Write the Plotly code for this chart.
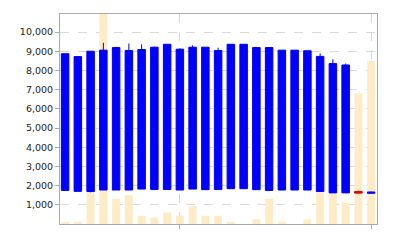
import plotly.graph_objects as go

dates = ["2024-01-02", "2024-01-03", "2024-01-04", "2024-01-05", "2024-01-08",
         "2024-01-09", "2024-01-10", "2024-01-11", "2024-01-12", "2024-01-15",
         "2024-01-16", "2024-01-17", "2024-01-18", "2024-01-19", "2024-01-22",
         "2024-01-23", "2024-01-24", "2024-01-25", "2024-01-26", "2024-01-29",
         "2024-01-30", "2024-01-31", "2024-02-01", "2024-02-02", "2024-02-05"]

open_ = [1750, 1700, 1690, 1770, 1770, 1770, 1820, 1800, 1800, 1770,
         1820, 1790, 1800, 1840, 1840, 1790, 1750, 1770, 1770, 1770,
         1690, 1620, 1620, 1690, 1600]
high = [8870, 8720, 9000, 9440, 9230, 9400, 9360, 9240, 9362, 9160,
        9310, 9210, 9180, 9362, 9362, 9194, 9194, 9056, 9056, 9025,
        8890, 8580, 8360, 1740, 1690]
low = [1750, 1700, 1650, 1770, 1770, 1770, 1820, 1800, 1800, 1770,
       1820, 1790, 1800, 1840, 1840, 1790, 1750, 1770, 1770, 1770,
       1690, 1620, 1620, 1570, 1580]
close = [8870, 8720, 9000, 9056, 9194, 9040, 9090, 9210, 9362, 9107,
         9210, 9210, 9040, 9362, 9362, 9194, 9194, 9056, 9056, 9025,
         8731, 8356, 8284, 1610, 1660]
volume = [120, 120, 1630, 11500, 1320, 1510, 430, 330, 600, 430,
          925, 430, 430, 120, 0, 240, 1320, 120, 0, 240,
          1630, 1580, 1115, 6810, 8490]

grid_ticks = [dates[9], dates[24]]

fig = go.Figure()
fig.add_trace(go.Bar(
    x=dates, y=volume, width=0.62,
    marker=dict(color="#FFEBC6", line=dict(width=0)),
    hoverinfo="skip", showlegend=False,
))
fig.add_trace(go.Candlestick(
    x=dates, open=open_, high=high, low=low, close=close,
    increasing=dict(line=dict(color="#0000F0", width=1), fillcolor="#0000FF"),
    decreasing=dict(line=dict(color="#E00000", width=1), fillcolor="#FF0000"),
    whiskerwidth=0, showlegend=False,
))

fig.update_layout(
    width=400, height=240,
    margin=dict(l=60, r=23, t=14, b=14),
    paper_bgcolor="white", plot_bgcolor="white",
    font=dict(family="DejaVu Sans", size=9.5, color="#222"),
    boxgap=0.16,
    bargap=0.35,
    xaxis=dict(
        type="category", range=[-0.4, 24.46],
        rangeslider=dict(visible=False),
        tickmode="array", tickvals=grid_ticks, showticklabels=False,
        ticks="outside", ticklen=4, tickcolor="#aaaaaa",
        showgrid=True, gridcolor="#d8d8d8", griddash="dash", gridwidth=1,
        showline=True, linecolor="#aaaaaa", linewidth=1, mirror=True,
        zeroline=False,
    ),
    yaxis=dict(
        range=[0, 10940],
        tickmode="array", tickvals=list(range(1000, 10001, 1000)),
        tickformat=",d",
        ticks="outside", ticklen=4, tickcolor="#aaaaaa",
        showgrid=True, gridcolor="#d8d8d8", griddash="dash", gridwidth=1,
        showline=True, linecolor="#aaaaaa", linewidth=1, mirror=True,
        zeroline=False,
    ),
)

fig.write_html("out.html")
